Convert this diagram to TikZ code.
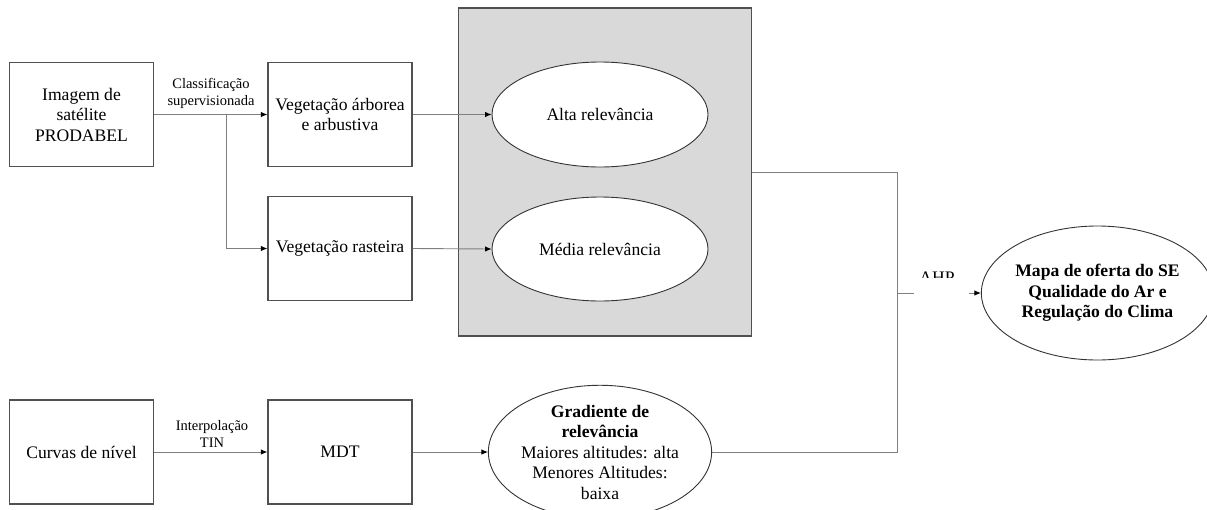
\documentclass[tikz,border=0pt]{standalone}
\usepackage{fontspec}
\setmainfont{Liberation Serif}
\usetikzlibrary{shapes.geometric,arrows.meta}
\definecolor{edgegray}{HTML}{7F7F7F}
\definecolor{boxline}{HTML}{505050}
\definecolor{panelfill}{HTML}{D9D9D9}
\tikzset{
  txt/.style={font=\fontsize{17.6}{20.5}\selectfont, align=center, text=black},
  smalltxt/.style={font=\fontsize{14.5}{17}\selectfont, align=center, text=black, inner sep=0pt},
  procbox/.style={txt, draw=boxline, line width=1.2pt, fill=white, rectangle,
    minimum width=144pt, minimum height=104pt, inner sep=2pt},
  oval/.style={txt, draw=black!80, line width=0.9pt, fill=white, ellipse,
    inner sep=0pt},
  conn/.style={draw=edgegray, line width=0.9pt},
  arr/.style={conn, -{Latex[length=6.5pt,width=5.5pt,black]}},
}
\begin{document}
\begin{tikzpicture}[x=1pt,y=-1pt]
  \useasboundingbox (0,0) rectangle (1207,509);

  % grey panel holding the relevance classes
  \node[draw=boxline, line width=1.3pt, fill=panelfill, rectangle,
        minimum width=293pt, minimum height=328pt, inner sep=0pt]
        (panel) at (605.25,172) {};

  % input and intermediate boxes
  \node[procbox] (img)    at (81.5,114.5) {Imagem de\\satélite\\PRODABEL};
  \node[procbox] (arb)    at (340,114.5)  {Vegetação árborea\\e arbustiva};
  \node[procbox] (ras)    at (340,248.5)  {Vegetação rasteira};
  \node[procbox] (curvas) at (81.5,452)   {Curvas de nível};
  \node[procbox] (mdt)    at (340,452)    {MDT};

  % relevance ellipses
  \node[oval, minimum width=216pt, minimum height=105pt] (alta)  at (600,114.5) {Alta relevância};
  \node[oval, minimum width=216pt, minimum height=104pt] (media) at (600,249)   {Média relevância};
  \node[oval, minimum width=216pt, minimum height=118pt] (grad)  at (600,452)
    {\textbf{Gradiente de}\\\textbf{relevância}\\Maiores altitudes: alta\\Menores Altitudes:\\baixa};

  % final map
  \node[oval, minimum width=215pt, minimum height=134pt] (mapa) at (1097.5,293)
    {\textbf{Mapa de oferta do SE}\\\textbf{Qualidade do Ar e}\\\textbf{Regulação do Clima}};

  % helper points for the connectors
  \coordinate (split) at (226,114.5);
  \coordinate (joinTop) at (897,172);
  \coordinate (joinBot) at (897,452);
  \coordinate (joinMid) at (897,293);

  % classification branch
  \draw[arr] (img.east) -- (arb.west);
  \draw[arr] (split) |- (ras.west);
  \node[smalltxt, anchor=south] (lblclass) at (211,109) {Classificação\\supervisionada};

  \draw[arr] (arb.east) -- (alta.west);
  \draw[arr] (ras.east) -- (media.west);

  % terrain branch
  \draw[arr] (curvas.east) -- (mdt.west);
  \node[smalltxt, anchor=south] (lbltin) at (212,448) {Interpolação\\TIN};
  \draw[arr] (mdt.east) -- (grad.west);

  % merging lines towards the final map
  \draw[conn] (panel.east) -- (joinTop) -- (joinBot) -- (grad.east);
  \draw[arr] (joinMid) -- (mapa.west);

  % AHP label, partly hidden behind the gap in the line
  \node[font=\fontsize{17.6}{20.5}\selectfont, anchor=north, inner sep=0pt] (ahp) at (937,272) {AHP};
  \fill[white] (913.5,277.5) rectangle (968.5,305);
\end{tikzpicture}
\end{document}
